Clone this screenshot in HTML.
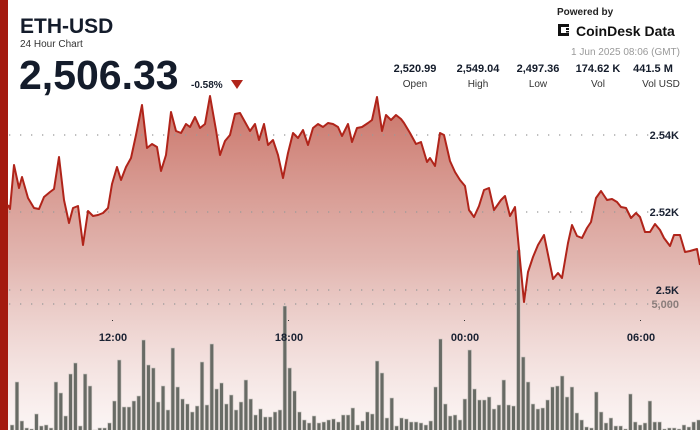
<!DOCTYPE html>
<html><head><meta charset="utf-8"><style>
body{margin:0;width:700px;height:430px;overflow:hidden;background:#fff;font-family:"Liberation Sans",sans-serif;}
</style></head><body>
<svg width="700" height="430" xmlns="http://www.w3.org/2000/svg" font-family="Liberation Sans, sans-serif">
<defs>
<linearGradient id="g" gradientUnits="userSpaceOnUse" x1="0" y1="95" x2="0" y2="430">
<stop offset="0" stop-color="#c0594b" stop-opacity="0.85"/>
<stop offset="0.5" stop-color="#d28f86" stop-opacity="0.65"/>
<stop offset="1" stop-color="#f6e6e4" stop-opacity="0.4"/>
</linearGradient>
</defs>
<rect x="0" y="0" width="8" height="430" fill="#a41a0f"/>
<path id="area" fill="url(#g)" stroke="none"/>
<g id="grid" stroke="#999" stroke-width="1.3" stroke-dasharray="1.3 9.7">
<line x1="9" y1="135" x2="675" y2="135"/>
<line x1="9" y1="212" x2="675" y2="212"/>
<line x1="9" y1="290" x2="675" y2="290"/>
<line x1="9" y1="304" x2="675" y2="304"/>
</g>
<g id="bars" fill="#686b65" stroke="#c9c3bf" stroke-width="0.6"></g>
<path id="line" fill="none" stroke="#b0241a" stroke-width="2" stroke-linejoin="round"/>
<g font-size="11" font-weight="bold" fill="#1a2233" text-anchor="end">
<text x="679" y="139">2.54K</text><text x="679" y="216">2.52K</text><text x="679" y="294">2.5K</text>
<text x="679" y="308" fill="#8a7d7b">5,000</text>
</g>
<g font-size="11" font-weight="bold" fill="#1a2233" text-anchor="middle">
<text x="113" y="341">12:00</text><text x="289" y="341">18:00</text><text x="465" y="341">00:00</text><text x="641" y="341">06:00</text>
</g>
<g fill="#333"><rect x="112" y="320" width="1" height="1"/><rect x="288" y="320" width="1" height="1"/><rect x="464" y="320" width="1" height="1"/><rect x="640" y="320" width="1" height="1"/></g>
<text x="20" y="33" font-size="21" font-weight="bold" fill="#141c2b">ETH-USD</text>
<text x="20" y="47" font-size="10" fill="#333">24 Hour Chart</text>
<text x="19" y="89" font-size="41" font-weight="bold" fill="#141c2b">2,506.33</text>
<text x="191" y="88" font-size="10" font-weight="bold" fill="#141c2b">-0.58%</text>
<polygon points="231,80 243,80 237,89" fill="#b0241a"/>
<text x="557" y="15" font-size="10" font-weight="bold" fill="#222">Powered by</text>
<g fill="#111"><rect x="558" y="24" width="3" height="12"/><rect x="558" y="24" width="11" height="3"/><rect x="558" y="33" width="11" height="3"/><rect x="566" y="28" width="3" height="2"/><rect x="566" y="31" width="3" height="1.5"/></g>
<text x="576" y="36" font-size="14" font-weight="bold" fill="#111">CoinDesk Data</text>
<text x="680" y="55" font-size="10" fill="#999" text-anchor="end">1 Jun 2025 08:06 (GMT)</text>
<g font-size="11" font-weight="bold" fill="#141c2b" text-anchor="middle">
<text x="415" y="72">2,520.99</text><text x="478" y="72">2,549.04</text><text x="538" y="72">2,497.36</text><text x="598" y="72">174.62 K</text><text x="653" y="72">441.5 M</text>
</g>
<g font-size="10" fill="#333" text-anchor="middle">
<text x="415" y="87">Open</text><text x="478" y="87">High</text><text x="538" y="87">Low</text><text x="598" y="87">Vol</text><text x="661" y="87">Vol USD</text>
</g>
</svg>
<script>
var p=[[8,205],[10,209],[14,165],[19,188],[22,177],[28,198],[34,208],[39,209],[44,197],[50,192],[54,189],[59,157],[64,200],[69,223],[73,208],[78,206],[83,245],[88,211],[93,216],[98,215],[103,213],[108,208],[112,184],[117,167],[121,180],[126,167],[131,158],[136,135],[142,105],[147,148],[152,144],[157,147],[161,171],[166,155],[171,112],[176,131],[181,133],[186,124],[190,127],[195,117],[200,128],[205,124],[210,96],[216,130],[220,155],[225,141],[230,135],[235,114],[240,113],[245,122],[250,131],[255,124],[259,140],[264,124],[268,145],[273,140],[278,155],[283,178],[288,153],[293,133],[298,138],[303,130],[308,145],[313,128],[318,124],[323,127],[328,123],[333,124],[338,127],[342,136],[348,124],[352,142],[357,128],[362,127],[368,123],[372,120],[377,97],[382,131],[386,115],[391,120],[396,115],[401,119],[404,123],[410,133],[416,144],[421,142],[427,162],[430,158],[435,166],[440,133],[444,135],[450,161],[455,172],[460,180],[465,186],[469,210],[474,217],[479,206],[484,190],[489,188],[494,210],[501,200],[505,196],[510,216],[515,207],[520,260],[524,302],[528,272],[533,257],[538,245],[544,235],[553,279],[558,273],[562,278],[568,243],[572,225],[577,236],[582,238],[587,228],[591,222],[596,198],[601,191],[607,200],[612,199],[617,202],[621,207],[626,208],[631,218],[636,213],[640,217],[645,232],[650,232],[655,224],[660,230],[664,238],[670,246],[674,235],[680,235],[685,252],[690,251],[697,249],[700,265]];
var d="M"+p.map(function(a){return a[0]+","+a[1]}).join(" L");
document.getElementById("line").setAttribute("d",d);
document.getElementById("area").setAttribute("d",d+" L700,430 L8,430 Z");
var v1=[425,382,421,428,429,414,426,425,428,382,393,416,374,363,426,374,386,430,428,428,423,401,360,407,407,401,396,340,365,368,402,386,410,348,387,399,404,412,406,362,405,344,389,383,404,395,410,402,380,399,415,409,417,417,412,410,306,368,391,412,420,423,416,423,422,420,419,422,415,415];
var v2=[408,425,421,412,414,361,373,418,398,426,418,419,422,422,423,425,421,387,339,404,416,415,420,399,350,389,400,400,397,409,405,380,405,406,250,357,382,404,409,408,400,387,386,376,397,387,413,420,427,428,392,412,423,418,426,426,429,394,422,425,423,401,422,422,429,428,428,429,425,427,422,420];
var g=document.getElementById("bars"),s="";
function add(arr,x0){for(var i=0;i<arr.length;i++){var x=x0+i*4.87;s+='<rect x="'+x.toFixed(2)+'" y="'+arr[i]+'" width="3.6" height="'+(431-arr[i])+'"/>';}}
add(v1,10.3);add(v2,351);
g.innerHTML=s;
</script>
</body></html>
